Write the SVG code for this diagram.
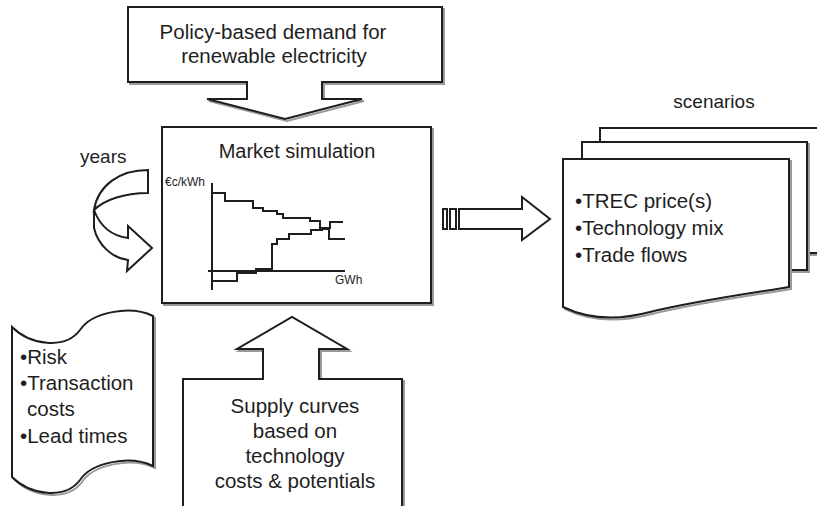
<svg xmlns="http://www.w3.org/2000/svg" width="817" height="506" viewBox="0 0 817 506">
<style>
.shp{fill:#fff;stroke:#1e1e1e;stroke-width:2;stroke-linejoin:miter}
.shd{fill:none;stroke:#9a9a9a;stroke-width:2}
.ln{fill:none;stroke:#1e1e1e;stroke-width:2}
.t{font-family:"Liberation Sans",Arial,sans-serif;fill:#1e1e1e}
.big{font-size:20.5px}
.sm{font-size:12px}
</style>
<defs>
<path id="policyShape" d="M128,7 H442 V82 H322 V99 H362 L285,119 L207,99 H247 V82 H128 Z"/>
<path id="supplyShape" d="M183,512 V379 H263 V349 H237 L292,317 L347,349 H319 V379 H402 V512"/>
<path id="scrollShape" d="M12,327 C30,345 65,350 80,330 C92,312 130,305 153,316 V466 C130,455 92,462 80,480 C65,500 30,495 12,477 Z"/>
<path id="docFront" d="M563,159 H789 V287 C760,292 700,300 650,312 C620,320 590,320 563,307 Z"/>
</defs>

<g id="policy-demand">
<use href="#policyShape" class="shd" transform="translate(2,2)"/>
<use href="#policyShape" class="shp"/>
<text class="t big" x="273" y="39" text-anchor="middle">Policy-based demand for</text>
<text class="t big" x="274" y="63" text-anchor="middle">renewable electricity</text>
</g>

<g id="market-simulation">
<rect x="164" y="129" width="269" height="176" class="shd"/>
<rect x="162" y="127" width="269" height="176" class="shp"/>
<text class="t" font-size="20" x="297" y="158" text-anchor="middle">Market simulation</text>
<text class="t sm" x="165" y="186">€c/kWh</text>
<text class="t sm" x="335" y="284">GWh</text>
<g id="chart">
<path class="ln" d="M212,183 V290"/>
<path class="ln" d="M208,271 H345"/>
<path class="ln" d="M212,193 H225 V201 H253 V208 H263 V211 H277 V214 H283 V218 H310 V221 H320 V229 H329 V239 H345"/>
<path class="ln" d="M212,281 H237 V273 H256 V269 H272 V244 H277 V239 H289 V234 H311 V230 H322 V228 H330 V222 H343"/>
</g>
</g>

<g id="years">
<text class="t" font-size="19" x="80" y="163">years</text>
<path class="shp" d="M148,170 C120,170 98,185 94,210 C104,200 124,193 148,193 Z"/>
<path class="shp" d="M94,210 L94,228 C98,245 112,258 128,260 L127,271 L152,248 L128,226 L128,238 C112,236 100,226 94,210 Z"/>
</g>

<g id="constraints">
<use href="#scrollShape" class="shd" transform="translate(2,2)"/>
<use href="#scrollShape" class="shp"/>
<text class="t big" x="20" y="364">•Risk</text>
<text class="t big" x="20" y="390">•Transaction</text>
<text class="t big" x="27" y="416">costs</text>
<text class="t big" x="20" y="443">•Lead times</text>
</g>

<g id="supply-curves">
<use href="#supplyShape" class="shd" transform="translate(2,2)"/>
<use href="#supplyShape" class="shp"/>
<text class="t big" x="295" y="413" text-anchor="middle">Supply curves</text>
<text class="t big" x="295" y="438" text-anchor="middle">based on</text>
<text class="t big" x="295" y="463" text-anchor="middle">technology</text>
<text class="t big" x="295" y="488" text-anchor="middle">costs &amp; potentials</text>
</g>

<g id="connectors">
<rect x="443" y="209" width="4" height="20" class="shp" stroke-width="1.5"/>
<rect x="450" y="209" width="6" height="20" class="shp" stroke-width="1.5"/>
<path class="shp" stroke-width="1.5" d="M459,209 H522 V197 L550,219 L522,240 V229 H459 Z"/>
</g>

<g id="scenarios">
<text class="t" font-size="19" x="714" y="108" text-anchor="middle">scenarios</text>
<rect x="602" y="130" width="230" height="125" class="shd"/>
<rect x="600" y="128" width="230" height="125" class="shp"/>
<rect x="584" y="144" width="225" height="128" class="shd"/>
<rect x="582" y="142" width="225" height="128" class="shp"/>
<use href="#docFront" class="shd" transform="translate(2,2)"/>
<use href="#docFront" class="shp"/>
<text class="t big" x="575" y="208">•TREC price(s)</text>
<text class="t big" x="575" y="235">•Technology mix</text>
<text class="t big" x="575" y="262">•Trade flows</text>
</g>
</svg>
